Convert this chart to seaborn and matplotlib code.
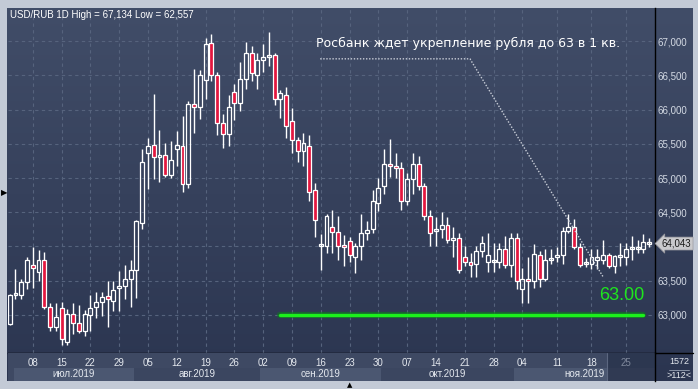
import numpy as np
import pandas as pd
import matplotlib
matplotlib.use("Agg")
import matplotlib.pyplot as plt
import seaborn as sns
from matplotlib.colors import LinearSegmentedColormap

# ---------------- data ----------------
opens = [62.87, 63.29, 63.29, 63.48, 63.73, 63.63, 63.81, 63.12, 62.82, 63.10,
         62.61, 63.01, 62.89, 62.76, 63.00, 63.11, 63.19, 63.28, 63.21, 63.39,
         63.43, 63.52, 63.65, 64.35, 65.36, 65.48, 65.30, 65.33, 65.05, 65.43,
         65.46, 64.91, 66.08, 66.04, 66.43, 66.97, 66.50, 65.80, 65.64, 66.25,
         66.10, 66.45, 66.82, 66.51, 66.73, 66.77, 66.79, 66.16, 66.21, 65.83,
         65.55, 65.40, 65.46, 64.83, 64.00, 64.01, 64.29, 64.21, 64.01, 64.08,
         63.85, 64.01, 64.19, 64.25, 64.64, 64.88, 65.21, 65.17, 65.14, 64.67,
         64.98, 65.21, 64.89, 64.45, 64.22, 64.25, 64.32, 64.10, 64.12, 63.84,
         63.77, 63.74, 63.93, 63.78, 63.77, 63.77, 63.96, 63.73, 64.12, 63.38,
         63.52, 63.50, 63.87, 63.52, 63.80, 63.84, 63.87, 64.22, 64.29, 63.99,
         63.74, 63.74, 63.81, 63.81, 63.87, 63.71, 63.84, 63.84, 63.96, 63.96,
         63.96, 64.03]
highs = [63.31, 63.67, 63.52, 63.85, 63.99, 63.95, 63.92, 63.18, 63.18, 63.19,
         63.09, 63.17, 63.15, 63.07, 63.29, 63.33, 63.33, 63.50, 63.50, 63.64,
         63.73, 63.80, 64.39, 65.43, 65.59, 66.23, 65.70, 65.51, 65.54, 65.69,
         65.90, 66.12, 66.59, 66.58, 67.04, 67.10, 66.55, 65.93, 66.21, 66.37,
         66.70, 66.98, 66.92, 66.83, 66.96, 67.134, 66.82, 66.28, 66.33, 66.02,
         65.60, 65.65, 65.63, 64.92, 64.18, 64.47, 64.53, 64.44, 64.17, 64.14,
         64.05, 64.48, 64.37, 64.82, 65.00, 65.42, 65.57, 65.37, 65.24, 65.08,
         65.36, 65.32, 64.92, 64.53, 64.43, 64.50, 64.43, 64.29, 64.19, 64.00,
         63.91, 64.00, 64.15, 64.19, 64.05, 64.05, 64.15, 64.19, 64.19, 63.68,
         63.84, 64.03, 63.93, 63.97, 63.97, 63.99, 64.29, 64.47, 64.40, 64.05,
         63.83, 63.96, 63.96, 64.10, 63.90, 63.87, 64.05, 64.05, 64.15, 64.10,
         64.18, 64.13]
lows = [62.85, 63.23, 63.24, 63.38, 63.40, 63.50, 63.09, 62.76, 62.76, 62.557,
        62.56, 62.72, 62.73, 62.69, 62.76, 62.96, 62.99, 62.83, 63.06, 63.06,
        63.24, 63.12, 63.25, 64.25, 64.84, 64.99, 64.94, 65.02, 65.00, 65.17,
        64.79, 64.86, 65.66, 65.86, 66.16, 66.42, 65.63, 65.44, 65.47, 65.84,
        65.98, 66.30, 66.42, 66.30, 66.55, 66.63, 66.07, 65.88, 65.59, 65.36,
        65.24, 65.17, 64.67, 64.14, 63.66, 63.90, 63.90, 63.81, 63.71, 63.77,
        63.61, 63.81, 64.09, 64.19, 64.52, 64.76, 65.02, 65.00, 64.54, 64.61,
        64.76, 64.82, 64.38, 64.00, 64.00, 64.12, 64.05, 63.85, 63.62, 63.72,
        63.56, 63.55, 63.84, 63.63, 63.63, 63.68, 63.68, 63.56, 63.38, 63.17,
        63.17, 63.40, 63.41, 63.49, 63.74, 63.77, 63.75, 64.19, 63.96, 63.70,
        63.70, 63.67, 63.67, 63.74, 63.68, 63.61, 63.71, 63.73, 63.81, 63.90,
        63.91, 63.99]
closes = [63.29, 63.31, 63.48, 63.81, 63.68, 63.81, 63.12, 62.82, 62.97, 62.65,
          63.01, 62.89, 62.76, 63.02, 63.10, 63.19, 63.26, 63.23, 63.36, 63.43,
          63.52, 63.65, 64.37, 65.24, 65.46, 65.30, 65.34, 65.05, 65.26, 65.48,
          64.91, 66.08, 66.04, 66.51, 66.95, 66.50, 65.80, 65.64, 66.04, 66.09,
          66.45, 66.82, 66.53, 66.72, 66.76, 66.78, 66.16, 66.24, 65.76, 65.55,
          65.40, 65.51, 64.79, 64.38, 64.01, 64.45, 64.21, 64.01, 63.99, 63.87,
          64.00, 64.19, 64.24, 64.67, 64.85, 65.21, 65.17, 65.14, 64.67, 64.98,
          65.21, 64.89, 64.45, 64.19, 64.24, 64.32, 64.10, 64.12, 63.66, 63.78,
          63.73, 63.94, 64.05, 63.87, 63.78, 63.96, 63.73, 64.12, 63.50, 63.52,
          63.50, 63.89, 63.52, 63.80, 63.81, 63.87, 64.22, 64.29, 63.99, 63.73,
          63.75, 63.84, 63.83, 63.87, 63.71, 63.86, 63.86, 63.96, 63.97, 63.97,
          64.06, 64.043]

day_labels = ["08", "15", "22", "29", "05", "12", "19", "26", "02", "09", "16",
              "23", "30", "07", "14", "21", "28", "04", "11", "18", "25"]
day_ticks = [4, 9, 14, 19, 24, 29, 34, 39, 44, 49, 54, 59, 64, 69, 74, 79, 84,
             89, 95, 101, 107]
month_labels = ["июл.2019", "авг.2019", "сен.2019", "окт.2019", "ноя.2019"]
month_starts = [1, 22, 44, 65, 88]

price_ticks = [63.0, 63.5, 64.0, 64.5, 65.0, 65.5, 66.0, 66.5, 67.0]
title_text = "USD/RUB 1D High = 67,134 Low = 62,557"
note_text = "Росбанк ждет укрепление рубля до 63 в 1 кв."
target_level = 63.00
target_span = [47, 110]
note_path_x = [53.9, 79.9, 103.0]
note_path_y = [66.74, 66.74, 63.56]
last_price = 64.043
bars_total, bars_visible = "1572", ">112<"

# ---------------- figure ----------------
sns.set_style("dark")
plt.rcParams['font.family'] = ['Liberation Sans', 'DejaVu Sans']

W, H = 698, 389
fig = plt.figure(figsize=(W / 100, H / 100), dpi=100)
fig.patch.set_facecolor('#c3cad6')

def fx(px):
    return px / W

def fy(py):
    return 1 - py / H

# background gradient for the whole dark area
bg = fig.add_axes([fx(7), fy(381), fx(693 - 7), (381 - 8) / H])
bg.axis('off')
cmap = LinearSegmentedColormap.from_list('bg', ['#414d68', '#2b3550'])
bg.imshow(np.linspace(0, 1, 256).reshape(-1, 1), aspect='auto', cmap=cmap,
          extent=[0, 1, 0, 1], origin='upper')

ax = fig.add_axes([fx(8), fy(353), fx(655 - 8), (353 - 8) / H])
ax.patch.set_alpha(0)

df = pd.DataFrame({'o': opens, 'h': highs, 'l': lows, 'c': closes})
df['x'] = np.arange(len(df))
up = (df.c >= df.o).values
top = np.maximum(df.o, df.c)
bot = np.minimum(df.o, df.c)

xmin, xmax = -0.3, 112.03
ymin, ymax = 62.445, 67.482

# grid
for t in day_ticks:
    ax.axvline(t, color='#56637d', lw=0.8, ls=(0, (3, 3)), zorder=1)
for p in price_ticks:
    ax.axhline(p, color='#56637d', lw=0.8, ls=(0, (3, 3)), zorder=1)

# candles
ax.vlines(df.x, top, df.h, color='white', lw=1.0, zorder=3)
ax.vlines(df.x, df.l, bot, color='white', lw=1.0, zorder=3)
heights = np.maximum(top - bot, 0.03)
faces = ['none' if u else '#e3173f' for u in up]
ax.bar(df.x, heights, bottom=bot, width=0.68, color=faces,
       edgecolor='white', linewidth=0.9, zorder=4)

# target line
tdf = pd.DataFrame({'x': target_span, 'y': [target_level, target_level]})
sns.lineplot(data=tdf, x='x', y='y', ax=ax, color='#0b7d1a', lw=4.5, alpha=0.6, zorder=5)
sns.lineplot(data=tdf, x='x', y='y', ax=ax, color='#1cf01c', lw=2.4, zorder=6)
ax.text(110.2, 63.28, f"{target_level:.2f}", color='#1ee61e', fontsize=13,
        ha='right', va='center', family='Liberation Sans', zorder=7)

# annotation
ax.plot(note_path_x, note_path_y, color='#c9ced8', lw=1.0, ls=(0, (1, 1.2)), zorder=5)
fig.text(fx(316), fy(43), note_text, color='white', fontsize=9,
         family='DejaVu Sans', va='center', ha='left', fontweight='medium')

fig.text(fx(10), fy(15), title_text, color='white', fontsize=7, va='center', ha='left')

ax.set_xlim(xmin, xmax)
ax.set_ylim(ymin, ymax)
ax.yaxis.tick_right()
ax.set_yticks(price_ticks)
# the 64,000 label is hidden under the last-price marker in the reference
ax.set_yticklabels(["" if abs(p - 64.0) < 1e-9 else f"{p:.3f}".replace('.', ',')
                    for p in price_ticks])
ax.tick_params(axis='y', length=0, pad=2, labelsize=7, labelcolor='#d3d9e3')
ax.tick_params(axis='x', length=0, labelbottom=False)
ax.set_xlabel('')
ax.set_ylabel('')
ax.grid(False)
for s in ['left', 'top']:
    ax.spines[s].set_visible(False)
for s in ['right', 'bottom']:
    ax.spines[s].set_color('black')
    ax.spines[s].set_linewidth(1.0)

# last price marker
ax.annotate(f"{last_price:.3f}".replace('.', ','), xy=(1.0, last_price),
            xycoords=('axes fraction', 'data'), xytext=(5, 0), textcoords='offset points',
            va='center', ha='left', fontsize=7, color='#1a1a1a',
            bbox=dict(boxstyle='larrow,pad=0.15', fc='#c9c9cc', ec='#9a9aa0', lw=0.5),
            annotation_clip=False, zorder=8)

# date panel
ax2 = fig.add_axes([fx(8), fy(381), fx(655 - 8), (381 - 353) / H], sharex=ax)
ax2.set_facecolor('#3e4963')
bounds = [s - 0.5 for s in month_starts[1:]]
edges = [0.75] + bounds + [xmax]
for i, lab in enumerate(month_labels):
    c = '#4b5771' if i % 2 == 0 else '#3b4660'
    ax2.axvspan(edges[i], edges[i + 1], ymin=0, ymax=0.46, color=c, lw=0)
    ax2.text((edges[i] + edges[i + 1]) / 2, 0.24, lab, color='#e4e8ee', fontsize=7,
             ha='center', va='center')
for t, lab in zip(day_ticks, day_labels):
    dim = t > 103.7
    ax2.text(t, 0.66, lab, color='#7f889b' if dim else '#e4e8ee', fontsize=7,
             ha='center', va='center', zorder=3)
ax2.axvspan(103.7, xmax, color='#27314a', alpha=0.75, lw=0, zorder=2)
ax2.axvline(103.7, color='#5c6780', lw=0.8, zorder=2)
ax2.set_ylim(0, 1)
ax2.set_xlim(xmin, xmax)
ax2.set_xticks([])
ax2.set_yticks([])
ax2.grid(False)
for s in ['left', 'top', 'bottom']:
    ax2.spines[s].set_visible(False)
ax2.spines['right'].set_color('black')
ax2.spines['right'].set_linewidth(1.0)

# bottom-right corner info
fig.add_artist(plt.Line2D([fx(655), fx(693)], [fy(353), fy(353)], color='black', lw=1.0))
fig.text(fx(679), fy(362), bars_total, color='#e4e8ee', fontsize=6.5, ha='center', va='center')
fig.add_artist(plt.Line2D([fx(669), fx(689)], [fy(369.5), fy(369.5)], color='#9aa3b5', lw=0.6))
fig.text(fx(679), fy(376), bars_visible, color='#e4e8ee', fontsize=6.5, ha='center', va='center')

# small navigation markers
fig.text(fx(0.5), fy(193), '▶', color='black', fontsize=6, ha='left', va='center',
         family='DejaVu Sans')
fig.text(fx(350), fy(385), '▲', color='black', fontsize=5, ha='center', va='center',
         family='DejaVu Sans')

fig.savefig('out.png', dpi=100, facecolor=fig.get_facecolor())
